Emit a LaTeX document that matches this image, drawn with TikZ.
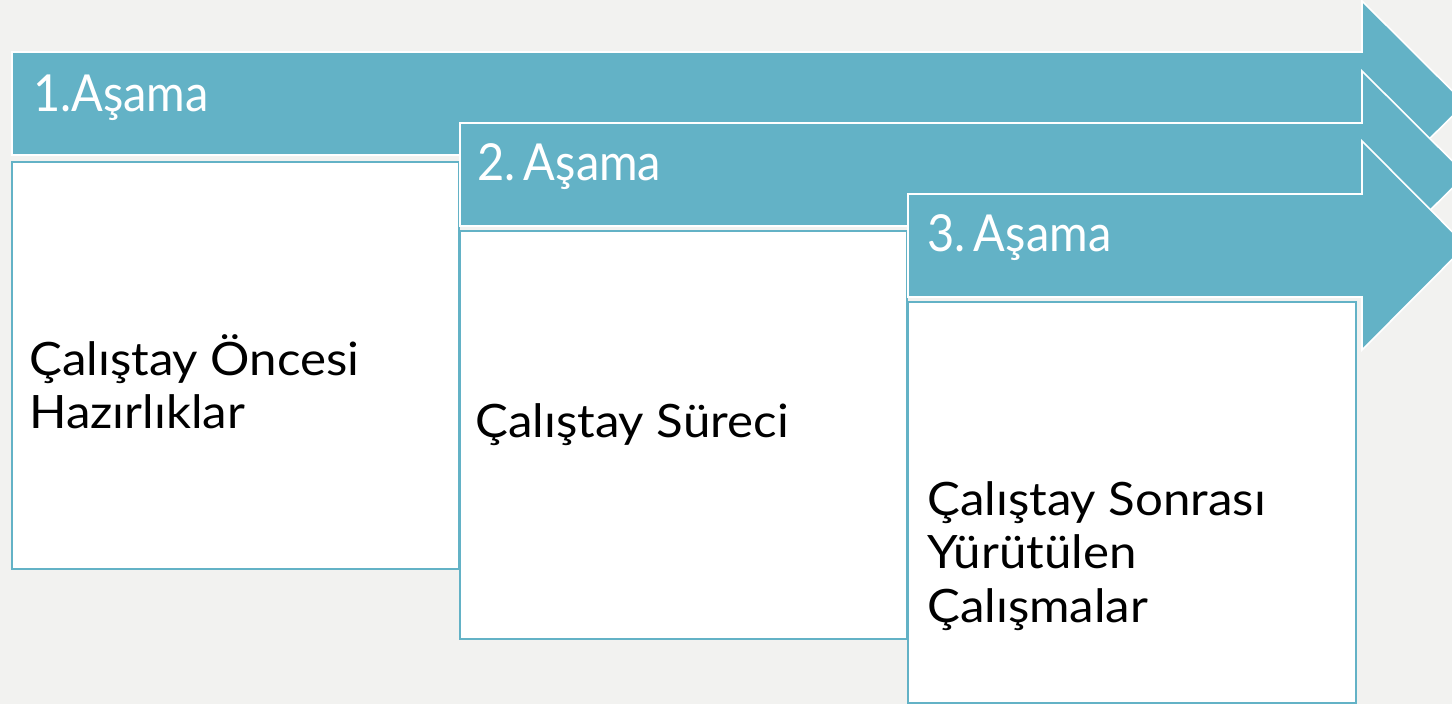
\documentclass[tikz,border=0pt]{standalone}
\usepackage{fontspec}
\setmainfont{Lato}
\newfontfamily\stagefont[FakeStretch=0.92]{Lato}
\newfontfamily\bodyfont[FakeStretch=1.07]{Lato}
\definecolor{tealA}{HTML}{63B2C6}
\definecolor{bgA}{HTML}{F2F2F0}
\tikzset{
  stagearrow/.style={fill=tealA, draw=white, line width=1.6pt, line join=miter},
  stagebox/.style={fill=white, draw=tealA, line width=2pt},
  stagelabel/.style={anchor=base west, inner sep=0pt, text=white, font=\stagefont\fontsize{51}{56}\selectfont},
  boxtext/.style={anchor=base west, inner sep=0pt, text=black, font=\bodyfont\fontsize{46}{53}\selectfont, align=left}
}
\begin{document}
\begin{tikzpicture}[x=1pt,y=-1pt]
\useasboundingbox (0,0) rectangle (1452,704);
\fill[bgA] (0,0) rectangle (1452,704);
\clip (0,0) rectangle (1452,704);
% stage 1
\draw[stagearrow] (12,52) -- (1362,52) -- (1362,1) -- (1465,103.5) -- (1362,206) -- (1362,155) -- (12,155) -- cycle;
\draw[stagebox] (12,162) rectangle (459,569);
\node[stagelabel] (l1) at (33,111) {1.Aşama};
\node[boxtext] (t1a) at (29,375) {Çalıştay Öncesi};
\node[boxtext] (t1b) at (29,428) {Hazırlıklar};
% stage 2
\draw[stagearrow] (460,123) -- (1362,123) -- (1362,71) -- (1466,174.5) -- (1362,278) -- (1362,226) -- (460,226) -- cycle;
\draw[stagebox] (460,231) rectangle (907,639);
\node[stagelabel] (l2) at (477,180) {2.\,Aşama};
\node[boxtext] (t2) at (475,437) {Çalıştay Süreci};
% stage 3
\draw[stagearrow] (908,194) -- (1362,194) -- (1362,141) -- (1466,245.5) -- (1362,350) -- (1362,297) -- (908,297) -- cycle;
\draw[stagebox] (908,302) rectangle (1356,703);
\node[stagelabel] (l3) at (927,251) {3.\,Aşama};
\node[boxtext] (t3a) at (927,515) {Çalıştay Sonrası};
\node[boxtext] (t3b) at (927,568) {Yürütülen};
\node[boxtext] (t3c) at (927,622) {Çalışmalar};
\end{tikzpicture}
\end{document}
